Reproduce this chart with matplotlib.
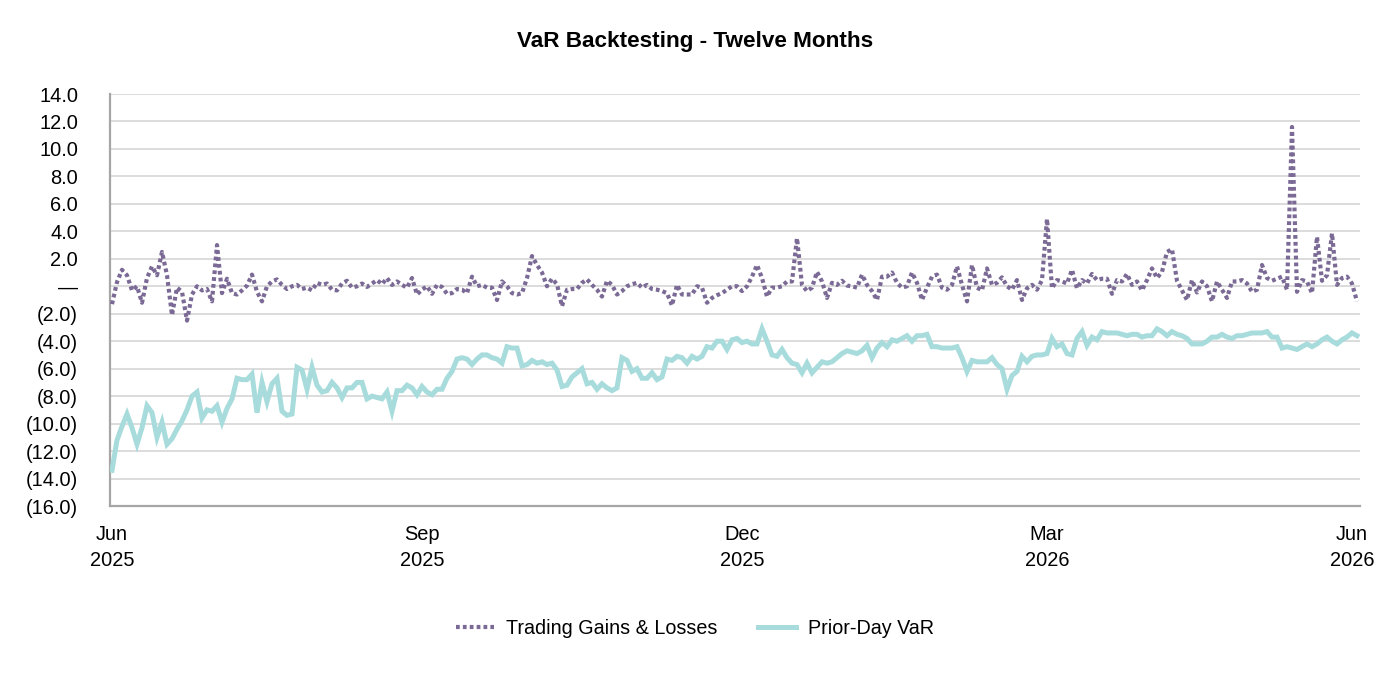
import matplotlib
matplotlib.use("Agg")
import matplotlib.pyplot as plt
from matplotlib import font_manager
import numpy as np

# ---------------- data ----------------
trading_gains = [
    -1.3, 0.3, 1.2, 0.8, -0.3, 0.0, -1.2, 0.6, 1.45, 0.8, 2.5, 0.8, -2.1, -0.1, -0.4, -2.5, -0.6, 0.0, -0.3, -0.2, -1.1,
    3.0, -0.5, 0.55, -0.5, -0.6, -0.3, 0.05, 0.85, -0.4, -1.1, 0.0, 0.35, 0.5, 0.1, -0.2, 0.0, 0.1, -0.2, -0.1, -0.3, 0.25,
    0.1, 0.2, -0.25, -0.3, 0.2, 0.4, -0.1, 0.0, 0.2, -0.05, 0.2, 0.45, 0.15, 0.6, 0.1, 0.35, 0.1, -0.1, 0.6, -0.6, -0.25,
    0.0, -0.55, 0.1, -0.05, -0.55, -0.5, -0.2, -0.25, -0.5, 0.7, 0.0, 0.1, -0.1, -0.1, -1.0, 0.35, 0.0, -0.5, -0.6, -0.5, 0.6,
    2.2, 1.55, 1.0, 0.0, 0.55, 0.15, -1.45, -0.25, -0.2, -0.2, 0.25, 0.5, 0.1, -0.25, -0.75, 0.4, 0.1, -0.6, -0.35, 0.0, 0.15,
    0.25, -0.1, 0.1, -0.2, -0.25, -0.35, -0.5, -1.4, 0.1, -0.6, -0.6, -0.6, 0.0, -0.1, -1.2, -0.85, -0.65, -0.5, -0.25, 0.0, 0.0,
    -0.35, 0.0, 0.7, 1.55, 0.6, -0.75, -0.1, -0.1, 0.0, 0.35, 0.35, 3.5, 0.1, -0.35, -0.1, 1.05, 0.35, -0.85, 0.25, 0.1, 0.4,
    0.05, 0.0, -0.1, 0.85, 0.1, -0.35, -1.0, 0.7, 0.7, 1.0, 0.25, -0.1, 0.0, 1.0, 0.25, -1.0, -0.1, 0.7, 0.85, -0.1, -0.25,
    0.1, 1.45, 0.1, -1.1, 1.55, -0.1, -0.3, 1.3, 0.1, 0.25, 0.65, 0.0, -0.25, 0.45, -1.0, -0.15, 0.1, -0.25, 0.45, 4.9, -0.15,
    0.45, 0.35, 0.2, 1.2, -0.15, 0.45, 0.2, 0.9, 0.45, 0.55, 0.55, -0.55, 0.45, 0.35, 0.9, 0.1, 0.35, -0.3, 0.45, 1.3, 0.6,
    1.05, 2.5, 2.7, 0.4, -0.3, -1.0, 0.45, -0.45, 0.35, 0.0, -1.1, 0.35, -0.25, -0.85, 0.35, 0.35, 0.45, 0.2, -0.4, -0.25,
    1.55, 0.6, 0.4, 0.55, 0.7, -0.25, 11.6, -0.4, 0.45, 0.35, -0.5, 3.6, 0.4, 0.8, 3.85, 0.1, 0.6, 0.7, 0.2, -1.1,
]

prior_day_var = [
    -13.4, -11.2, -10.2, -9.3, -10.3, -11.5, -10.3, -8.7, -9.2, -11.0, -9.9, -11.5, -11.1, -10.4, -9.8, -9.0, -8.0, -7.7,
    -9.6, -9.0, -9.1, -8.7, -9.9, -8.9, -8.2, -6.7, -6.8, -6.8, -6.4, -9.2, -7.0, -8.4, -7.1, -6.7, -9.1, -9.4, -9.3,
    -5.9, -6.1, -7.5, -5.9, -7.2,
    -7.7, -7.6, -7.0, -7.4, -8.1, -7.4, -7.4, -7.0, -7.0, -8.2, -8.0, -8.1, -8.2, -7.7, -9.1, -7.6, -7.6, -7.2, -7.4,
    -7.9, -7.3, -7.7, -7.9, -7.5, -7.5, -6.7, -6.2, -5.3, -5.2, -5.3, -5.7, -5.3, -5.0, -5.0, -5.2, -5.3, -5.6, -4.4,
    -4.5, -4.5, -5.8, -5.7,
    -5.4, -5.6, -5.5, -5.7, -5.6, -6.1, -7.3, -7.2, -6.6, -6.3, -6.0, -7.1, -7.0, -7.5, -7.1, -7.4, -7.6, -7.4, -5.2,
    -5.4, -6.2, -6.0, -6.7, -6.7, -6.3, -6.8, -6.6, -5.3, -5.4, -5.1, -5.2, -5.6, -5.1, -5.3, -5.1, -4.4, -4.5, -4.0,
    -4.0, -4.6, -3.9, -3.8,
    -4.1, -4.0, -4.2, -4.2, -3.1, -4.0, -5.0, -5.1, -4.6, -5.2, -5.6, -5.7, -6.3, -5.6, -6.3, -5.9, -5.5, -5.6, -5.5,
    -5.2, -4.9, -4.7, -4.8, -4.9, -4.7, -4.3, -5.2, -4.5, -4.1, -4.4, -3.9, -4.0, -3.8, -3.6, -4.0, -3.6, -3.6, -3.5,
    -4.4, -4.4, -4.5, -4.5,
    -4.5, -4.4, -5.2, -6.2, -5.4, -5.5, -5.5, -5.5, -5.2, -5.7, -6.0, -7.5, -6.5, -6.2, -5.1, -5.5, -5.1, -5.0, -5.0,
    -4.9, -3.8, -4.4, -4.2, -4.9, -5.0, -3.8, -3.3, -4.3, -3.7, -3.9, -3.3, -3.4, -3.4, -3.4, -3.5, -3.6, -3.5, -3.5,
    -3.7, -3.6, -3.6, -3.1,
    -3.3, -3.6, -3.3, -3.5, -3.6, -3.8, -4.2, -4.2, -4.2, -4.0, -3.7, -3.7, -3.5, -3.7, -3.8, -3.6, -3.6, -3.5, -3.4,
    -3.4, -3.4, -3.3, -3.7, -3.7, -4.5, -4.4, -4.5, -4.6, -4.4, -4.2, -4.4, -4.2, -3.9, -3.7, -4.0, -4.2, -3.9, -3.7,
    -3.4, -3.6,
]

# trading-day index of the first trading day of each labelled month
month_start_index = [0, 62, 126, 187, 248]
month_labels = ["Jun\n2025", "Sep\n2025", "Dec\n2025", "Mar\n2026", "Jun\n2026"]

ytick_values = [14, 12, 10, 8, 6, 4, 2, 0, -2, -4, -6, -8, -10, -12, -14, -16]
ytick_labels = ["14.0", "12.0", "10.0", "8.0", "6.0", "4.0", "2.0", "\u2014",
                "(2.0)", "(4.0)", "(6.0)", "(8.0)", "(10.0)", "(12.0)", "(14.0)", "(16.0)"]

title_text = "VaR Backtesting - Twelve Months"
series_names = ["Trading Gains & Losses", "Prior-Day VaR"]

# ---------------- fonts ----------------
def has_font(name):
    try:
        font_manager.findfont(font_manager.FontProperties(family=name), fallback_to_default=False)
        return True
    except Exception:
        return False

if has_font("Liberation Sans Narrow"):
    FAM = ["Liberation Sans Narrow", "DejaVu Sans"]
    SC = 1.0
else:
    FAM = ["Liberation Sans", "DejaVu Sans"]
    SC = 0.9

plt.rcParams["font.family"] = FAM

# ---------------- figure ----------------
fig = plt.figure(figsize=(13.9, 6.8), dpi=100)
ax = fig.add_axes([110 / 1390, 1 - 506 / 680, 1250 / 1390, 412 / 680])

x = np.arange(len(trading_gains))
xv = np.arange(len(prior_day_var))

gain_color = "#7A6A95"
var_color = "#A8DCDC"

ax.plot(xv, prior_day_var, color=var_color, lw=3.6, solid_joinstyle="miter", zorder=3,
        label=series_names[1])
ax.plot(x, trading_gains, color=gain_color, lw=3.0, linestyle=(0, (0.9, 0.75)),
        dash_capstyle="butt", zorder=4, label=series_names[0])

ax.set_ylim(-16, 14)
ax.set_xlim(-0.4, 249.6)
ax.set_yticks(ytick_values)
ax.set_yticklabels(ytick_labels)
ax.set_xticks(month_start_index)
ax.set_xticklabels(month_labels, linespacing=1.45)

ax.grid(axis="y", color="#D9D9D9", lw=1.3, zorder=0)
ax.set_axisbelow(True)
for s in ["top", "right"]:
    ax.spines[s].set_visible(False)
for s in ["left", "bottom"]:
    ax.spines[s].set_color("#A6A6A6")
    ax.spines[s].set_linewidth(1.6)

ax.tick_params(axis="y", length=0, pad=23, labelsize=16 * SC, labelcolor="black")
ax.tick_params(axis="x", length=0, pad=14, labelsize=16 * SC, labelcolor="black")

fig.text(0.5, 1 - 42 / 680, title_text, ha="center", va="center",
         fontsize=18 * SC, fontweight="bold")

h, l = ax.get_legend_handles_labels()
order = [1, 0]
fig.legend([h[i] for i in order], [l[i] for i in order], loc="center",
           bbox_to_anchor=(0.5, 1 - 628 / 680), ncol=2, frameon=False,
           fontsize=15.8 * SC, handlelength=1.9, handletextpad=0.6, columnspacing=2.1)

fig.savefig("out.png", dpi=100)
